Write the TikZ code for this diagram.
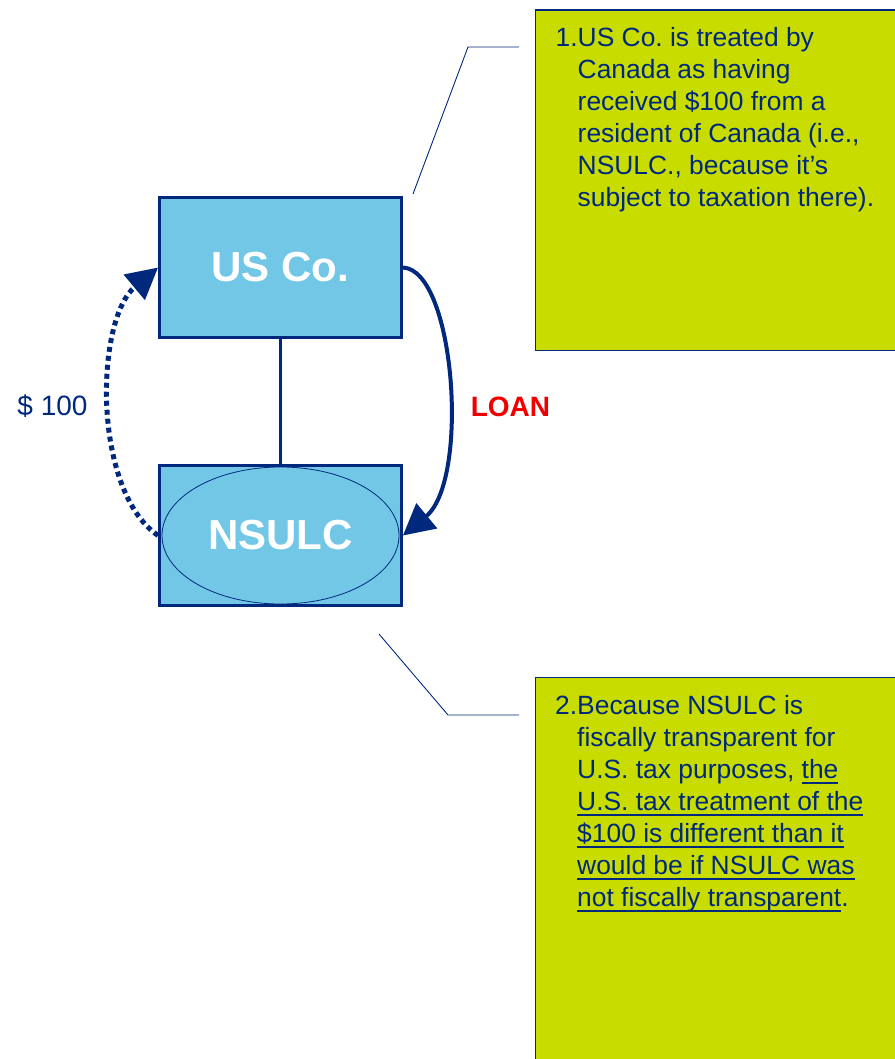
\documentclass[tikz,border=0pt]{standalone}
\usepackage{fontspec}
\setmainfont{Liberation Sans}
\usepackage{tikz}
\usetikzlibrary{arrows.meta, shapes.geometric, positioning}
\definecolor{navy}{RGB}{0,40,125}
\definecolor{boxblue}{RGB}{114,199,231}
\definecolor{notegreen}{RGB}{201,220,0}
\definecolor{loanred}{RGB}{240,0,0}
\newcommand{\NoteFont}{\fontsize{26.4}{32}\selectfont}
\newsavebox{\UndlBox}
\newcommand{\undl}[1]{\sbox{\UndlBox}{#1}\rlap{\rule[-5.5pt]{\wd\UndlBox}{1.8pt}}\usebox{\UndlBox}}
\frenchspacing

\begin{document}
\begin{tikzpicture}[x=1pt, y=-1pt,
    entity/.style={draw=navy, line width=3.3pt, fill=boxblue, minimum width=241.6pt,
        minimum height=139.6pt, inner sep=0pt, text=white,
        font=\fontsize{42}{48}\selectfont\bfseries},
    notebox/.style={draw=navy, line width=1.2pt, fill=notegreen, anchor=north west,
        minimum width=400pt, inner sep=0pt},
    notetext/.style={anchor=north west, inner sep=0pt, text=navy, font=\NoteFont},
    callout/.style={draw=navy, line width=0.9pt},
    flow/.style={draw=navy, line width=4pt, -{Triangle[length=31pt,width=32pt]}}]
        \useasboundingbox (0,0) rectangle (894,1059);
        % note boxes
        \node[notebox, minimum height=340.5pt] (note1) at (535,9.5) {};
        \node[notebox, minimum height=400pt] (note2) at (535,677) {};
        \node[notetext] (text1) at (555.5,23.6) {\begin{tabular}{@{}r@{}l@{}}
            1.&US Co. is treated by\\
            &Canada as having\\
            &received \$100 from a\\
            &resident of Canada (i.e.,\\
            &NSULC., because it’s\\
            &subject to taxation there).
            \end{tabular}};
        \node[notetext] (text2) at (555,691.6) {\begin{tabular}{@{}r@{}l@{}}
            2.&Because NSULC is\\
            &fiscally transparent for\\
            &U.S. tax purposes, \undl{the}\\
            &\undl{U.S. tax treatment of the}\\
            &\undl{\$100 is different than it}\\
            &\undl{would be if NSULC was}\\
            &\undl{not fiscally transparent}.
            \end{tabular}};
        % entities
        \node[entity] (usco) at (280.5,267.5) {US Co.};
        \node[entity] (nsulc) at (280.5,535.5) {NSULC};
        \node[ellipse, draw=navy, line width=0.8pt, minimum width=237pt,
            minimum height=137pt, inner sep=0pt] (nsulcring) at (nsulc.center) {};
        \draw[navy, line width=3.3pt] (usco) -- (nsulc);
        % loan and payment
        \draw[flow] (usco.east) .. controls (455,270) and (470,480) .. (nsulc.east);
        \draw[flow, line width=5pt, dash pattern=on 5pt off 4pt]
            (nsulc.west) .. controls (92,490) and (95,320) .. (usco.west);
        \node[anchor=base, text=navy, font=\fontsize{28}{32}\selectfont] (amount) at (52.5,415) {\$ 100};
        \node[anchor=base, text=loanred, font=\fontsize{28}{32}\selectfont\bfseries] (loan) at (510.5,416) {LOAN};
        % callout lines
        \coordinate (tail1) at (413,194);
        \coordinate (knee1) at (468,47);
        \coordinate (end1) at (519,47);
        \draw[callout] (tail1) -- (knee1) -- (end1);
        \coordinate (tail2) at (379,634);
        \coordinate (knee2) at (448,715);
        \coordinate (end2) at (519,715);
        \draw[callout] (tail2) -- (knee2) -- (end2);
\end{tikzpicture}
\end{document}
